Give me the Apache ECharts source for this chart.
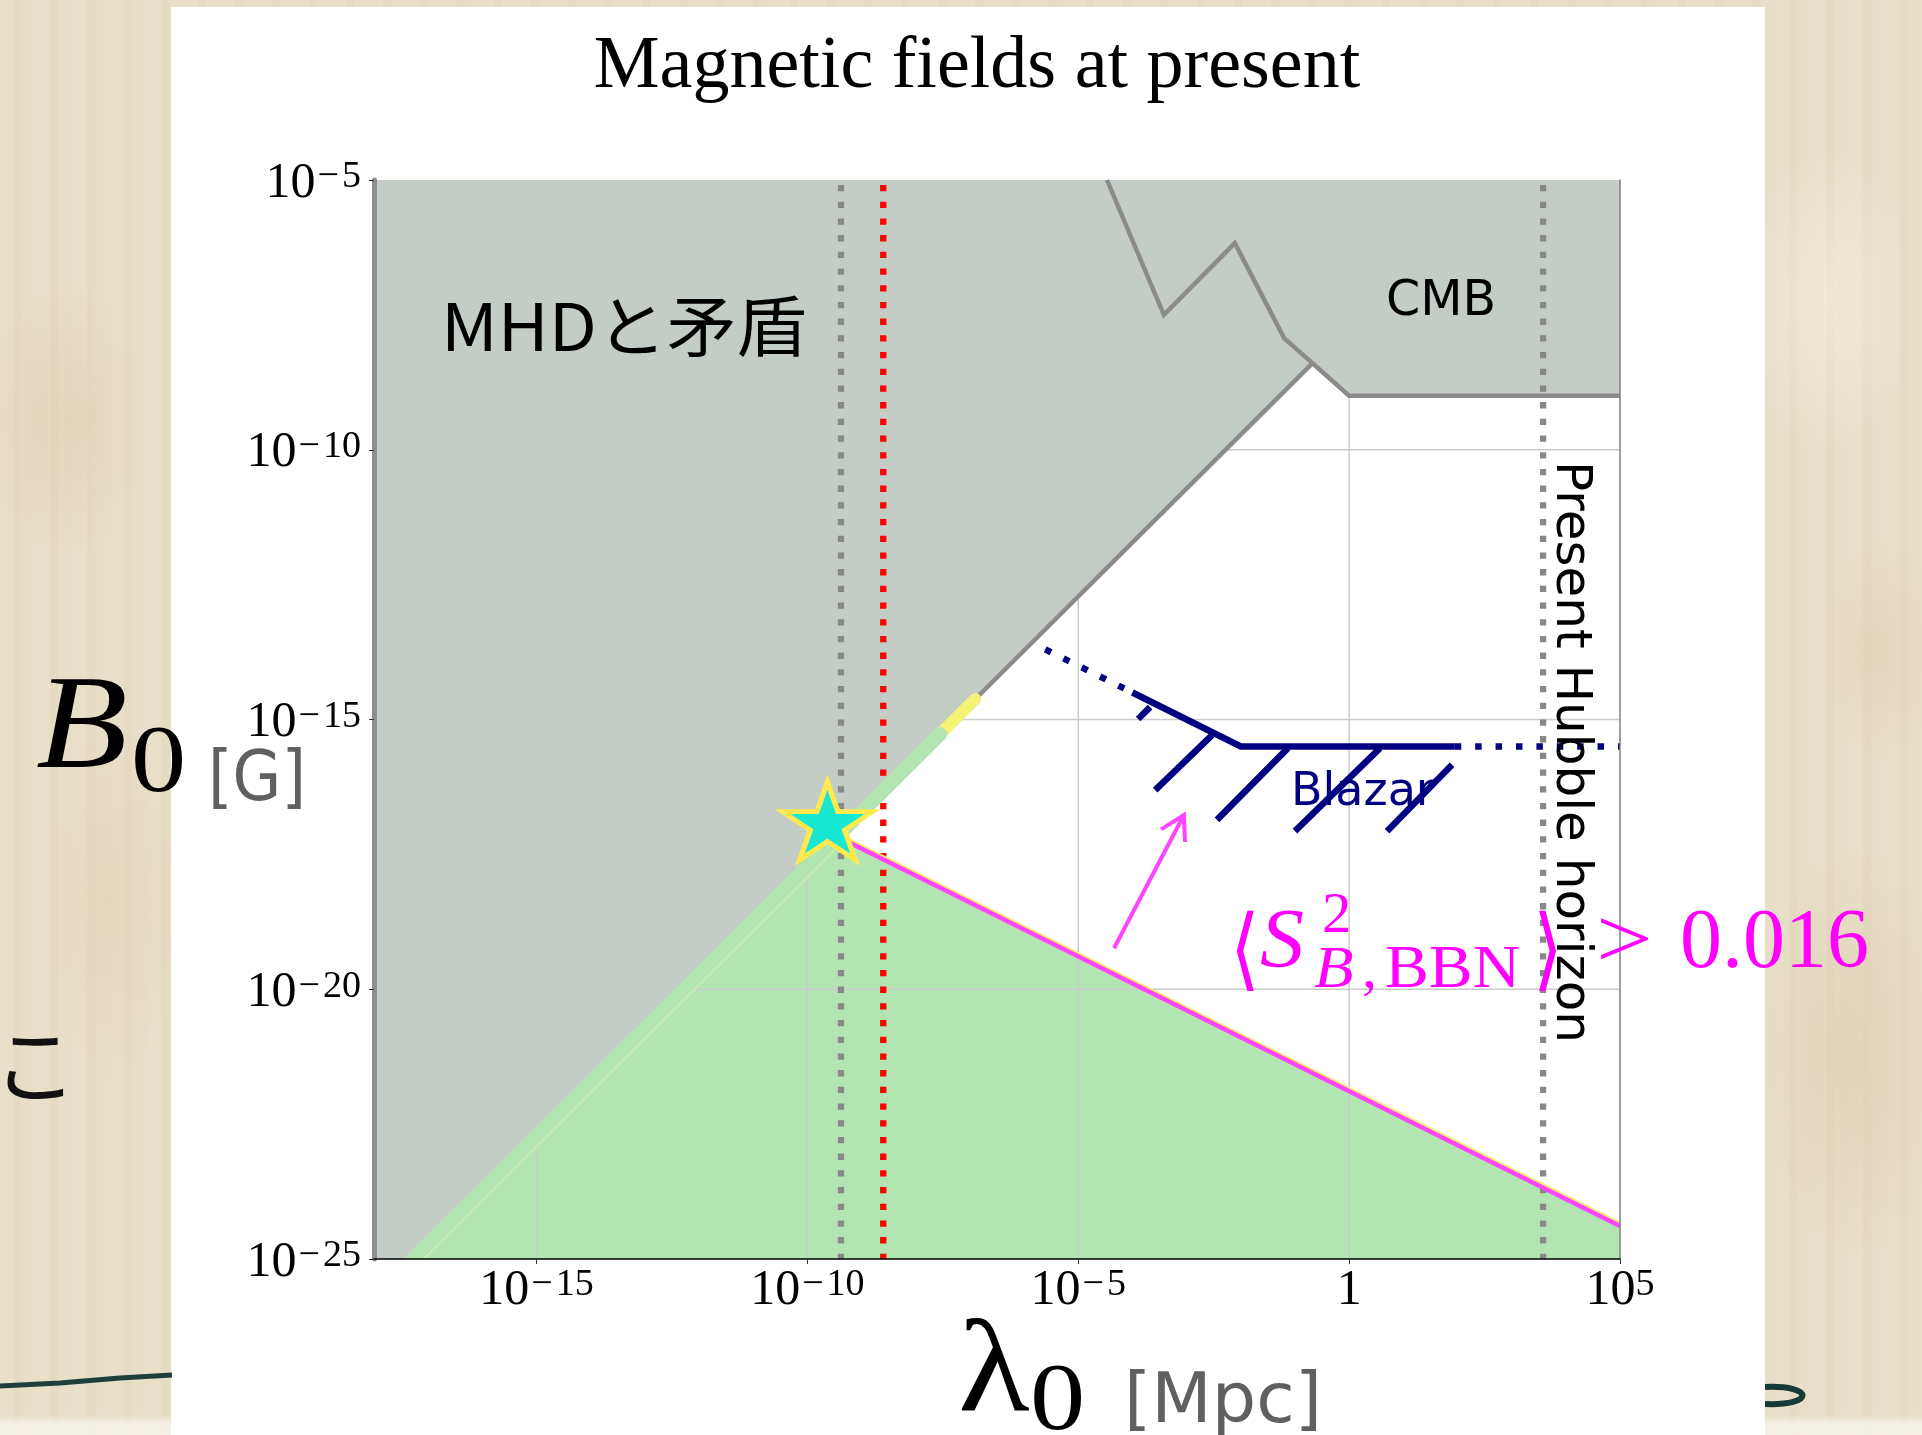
<!DOCTYPE html>
<html>
<head>
<meta charset="utf-8">
<script src="https://cdn.jsdelivr.net/npm/echarts@6/dist/echarts.min.js"></script>
<style>
  html, body { margin: 0; padding: 0; width: 1922px; height: 1435px; overflow: hidden; }
  body {
    background-color: #e8dec7;
    background-image:
      linear-gradient(180deg, rgba(255,255,255,0) 1415px, rgba(246,243,236,0.85) 1424px, rgba(246,243,236,0.85) 1435px),
      radial-gradient(ellipse 120px 200px at 60px 420px, rgba(214,196,160,0.35), rgba(214,196,160,0) 70%),
      radial-gradient(ellipse 100px 260px at 110px 900px, rgba(220,204,168,0.35), rgba(220,204,168,0) 70%),
      radial-gradient(ellipse 140px 300px at 1850px 1050px, rgba(210,192,152,0.35), rgba(210,192,152,0) 70%),
      radial-gradient(ellipse 120px 220px at 1830px 300px, rgba(250,244,228,0.45), rgba(250,244,228,0) 70%),
      radial-gradient(ellipse 90px 160px at 1880px 650px, rgba(215,198,160,0.3), rgba(215,198,160,0) 70%),
      repeating-linear-gradient(90deg, rgba(255,255,255,0.05) 0 13px, rgba(160,130,80,0.035) 13px 21px, rgba(255,255,255,0.02) 21px 37px);
  }
  #chart { position: absolute; left: 0; top: 0; width: 1922px; height: 1435px; }
</style>
</head>
<body>
<div id="chart"></div>
<script>
// All positions are log10 values: log10(λ0 / Mpc) on x, log10(B0 / G) on y.
const lamRange = [-18, 5];
const bRange = [-25, -5];
const xTickExp = [-15, -10, -5, 0, 5];
const yTickExp = [-25, -20, -15, -10, -5];
const gridLogLam = [-15, -10, -5, 0];
const gridLogB = [-20, -15, -10];

// Region excluded by MHD and by the CMB (grey)
const excludedLogLam = [-18, -17.28, -0.68, 0, 5, 5, -18];
const excludedLogB   = [-25, -25, -8.40, -9.0, -9.0, -5, -5];

// Allowed region below the BBN line (green)
const allowedLogLam = [-17.28, -9.45, 5, 5];
const allowedLogB   = [-25, -17.17, -24.39, -25];

// MHD limit B ∝ λ: grey upper part, yellow and green highlighted parts
const mhdLogLam = [-6.9, -0.68];
const mhdLogB   = [-14.62, -8.40];
const yellowLogLam = [-7.55, -6.9];
const yellowLogB   = [-15.27, -14.62];
const bandLogLam = [-17.58, -7.55];
const bandLogB   = [-25.3, -15.27];
const bandEdgeLogLam = [-17.08, -9.45];
const bandEdgeLogB   = [-25, -17.37];

// CMB bound (zig-zag)
const cmbLogLam = [-4.47, -3.42, -2.11, -1.20, 0, 5];
const cmbLogB   = [-5, -7.50, -6.17, -7.93, -9.0, -9.0];

// <S^2_{B,BBN}> > 0.016 line, B ∝ λ^{-1/2}
const bbnLogLam = [-9.45, 5];
const bbnLogB   = [-17.17, -24.39];
const bbnEdgeLogB = [-17.11, -24.33];

// Vertical markers
const greyMarkLogLam = -9.38;
const redMarkLogLam = -8.60;
const hubbleLogLam = 3.58;

// Blazar lower bound
const blazarDot1LogLam = [-5.61, -4.0];
const blazarDot1LogB   = [-13.7, -14.5];
const blazarLogLam = [-4.0, -2.0, 1.95];
const blazarLogB   = [-14.5, -15.5, -15.5];
const blazarDot2LogLam = [1.95, 5];
const blazarDot2LogB   = [-15.5, -15.5];
// hatch strokes: [logλ start, logB start, logλ end, logB end]
const blazarHatches = [
  [-3.675, -14.77, -3.896, -14.99],
  [-2.53, -15.29, -3.58, -16.31],
  [-1.13, -15.53, -2.44, -16.86],
  [0.57, -15.53, -1.00, -17.07],
  [1.90, -15.84, 0.70, -17.07]
];

// Arrow pointing to the region: [tail logλ, tail logB, tip logλ, tip logB]
const arrowSeg = [[-4.34, -19.24, -3.05, -16.77]];

// Star marker
const starPoint = [[-9.63, -16.88]];

const zip = (a, b) => a.map((v, i) => [v, b[i]]);

const C = {
  grey: '#c4cdc5', line: '#8b8b8b', green: '#b3e5b3', yellow: '#f3f275',
  pink: '#ff44ff', magenta: '#ff00ff', navy: '#000080', grid: '#cbcbcb'
};

function polygonSeries(points, fill, z) {
  return {
    type: 'custom', z: z, silent: true, clip: true, data: points,
    renderItem: function (params, api) {
      if (params.dataIndex !== 0) return;
      return { type: 'polygon', shape: { points: points.map(p => api.coord(p)) }, style: { fill: fill } };
    }
  };
}
function lineSeries(data, color, width, z, extra) {
  return {
    type: 'line', data: data, z: z, silent: true, symbol: 'none', clip: true,
    lineStyle: Object.assign({ color: color, width: width, cap: 'butt', join: 'miter' }, extra || {})
  };
}

function tickLabel(v) {
  if (v === 0) return '{b|1}';
  return '{b|10}' + (v < 0 ? '{m|−}' : '') + '{s|' + Math.abs(v) + '}';
}
const tickRich = {
  b: { fontFamily: 'Liberation Serif', fontSize: 50, lineHeight: 50, color: '#000' },
  m: { fontFamily: 'Liberation Serif', fontSize: 38, lineHeight: 24, verticalAlign: 'top', padding: [0, 3, 0, 2], color: '#000' },
  s: { fontFamily: 'Liberation Serif', fontSize: 38, lineHeight: 24, verticalAlign: 'top', color: '#000' }
};

// text helper: x = left edge, baseline in pixels
function txt(text, x, baseline, size, family, color, extra, styleExtra) {
  const k = family.indexOf('CJK') >= 0 ? 0.39 : 0.27;
  return Object.assign({
    type: 'text', x: x, y: baseline - k * size, z: 20, silent: true,
    style: Object.assign({
      text: text, fontSize: size, fontFamily: family, fill: color,
      textAlign: 'left', textVerticalAlign: 'middle'
    }, styleExtra || {})
  }, extra || {});
}

const serif = 'Liberation Serif';
const sans = 'DejaVu Sans';
const cjk = 'Noto Sans CJK JP';

const graphics = [
  // slide panel
  { type: 'rect', z: 0, silent: true, shape: { x: 171, y: 7, width: 1594, height: 1440 }, style: { fill: '#ffffff' } },
  // fragments of the slide around the panel
  { type: 'polyline', z: 1, silent: true, shape: { points: [[0, 1386], [60, 1383], [120, 1378], [172, 1375]] },
    style: { stroke: '#1e3d3b', lineWidth: 5, fill: 'none' } },
  { type: 'bezierCurve', z: 1, silent: true,
    shape: { x1: 1765, y1: 1387, cpx1: 1815, cpy1: 1385, cpx2: 1815, cpy2: 1406, x2: 1765, y2: 1404 },
    style: { stroke: '#163a38', lineWidth: 6, fill: 'none' } },
  txt('こ', -7, 1098, 84, cjk, '#111'),

  // title
  { type: 'text', x: 977, y: 88 - 0.27 * 74, z: 20, silent: true,
    style: { text: 'Magnetic fields at present', fontSize: 74, fontFamily: serif, fill: '#000', textAlign: 'center', textVerticalAlign: 'middle' } },

  // y axis title B0 [G]
  txt('B', 36, 768, 134, serif, '#000', { scaleX: 1.12 }, { fontStyle: 'italic' }),
  txt('0', 131, 792, 96, serif, '#000', { scaleX: 1.15 }),
  txt('[G]', 208, 801, 70, sans, '#606060', { scaleX: 0.9 }),

  // x axis title λ0 [Mpc]
  txt('λ', 958, 1411, 132, serif, '#000', { scaleX: 1.12 }),
  txt('0', 1030, 1430, 96, serif, '#000', { scaleX: 1.15 }),
  txt('[Mpc]', 1124, 1423, 70, sans, '#606060'),

  // region labels
  txt('MHDと矛盾', 441, 352, 66, cjk, '#000', { scaleX: 1.06 }),
  txt('CMB', 1386, 315, 49, sans, '#000'),
  Object.assign(txt('Blazar', 1291, 805, 46, sans, C.navy), { z: 7 }),
  { type: 'text', x: 1556 + 0.27 * 50, y: 752, z: 20, silent: true, rotation: -Math.PI / 2,
    style: { text: 'Present Hubble horizon', fontSize: 50, fontFamily: sans, fill: '#000', textAlign: 'center', textVerticalAlign: 'middle' } },

  // <S^2_{B,BBN}> > 0.016
  txt('⟨', 1230, 980, 90, 'DejaVu Serif', C.magenta, { z: 22, scaleX: 0.85 }),
  txt('S', 1260, 968, 84, serif, C.magenta, { z: 22, scaleX: 1.05 }, { fontStyle: 'italic' }),
  txt('2', 1322, 932, 56, serif, C.magenta, { z: 22, scaleX: 1.05 }),
  txt('B', 1314, 987, 60, serif, C.magenta, { z: 22, scaleX: 1.08 }, { fontStyle: 'italic' }),
  txt(',', 1362, 987, 60, serif, C.magenta, { z: 22 }),
  txt('BBN', 1385, 987, 62, serif, C.magenta, { z: 22, scaleX: 1.06 }),
  txt('⟩', 1533, 980, 90, 'DejaVu Serif', C.magenta, { z: 22, scaleX: 0.85 }),
  txt('>', 1596, 968, 84, serif, C.magenta, { z: 22, scaleX: 1.2 }),
  txt('0.016', 1680, 968, 84, serif, C.magenta, { z: 22 })
];

const chart = echarts.init(document.getElementById('chart'), null, { renderer: 'canvas' });
chart.setOption({
  backgroundColor: 'transparent',
  animation: false,
  grid: { left: 374, top: 180, width: 1246, height: 1079, containLabel: false },
  xAxis: {
    type: 'value', min: lamRange[0], max: lamRange[1], z: 9,
    axisLine: { show: true, onZero: false, lineStyle: { color: '#000', width: 1.5 } },
    axisTick: { show: true, customValues: xTickExp, length: 5, lineStyle: { color: '#333', width: 1 } },
    axisLabel: { customValues: xTickExp, formatter: tickLabel, rich: tickRich, margin: 7 },
    splitLine: { show: false }
  },
  yAxis: [{
    type: 'value', min: bRange[0], max: bRange[1], z: 9, position: 'left',
    axisLine: { show: true, onZero: false, lineStyle: { color: '#8e8e8e', width: 5 } },
    axisTick: { show: true, customValues: yTickExp, length: 5, lineStyle: { color: '#333', width: 1 } },
    axisLabel: { customValues: yTickExp, formatter: tickLabel, rich: tickRich, margin: 13, padding: [7, 0, 0, 0] },
    splitLine: { show: false }
  }, {
    type: 'value', min: bRange[0], max: bRange[1], z: 9, position: 'right',
    axisLine: { show: true, onZero: false, lineStyle: { color: '#7f7f7f', width: 1.5 } },
    axisTick: { show: false }, axisLabel: { show: false }, splitLine: { show: false }
  }],
  graphic: graphics,
  series: [
    polygonSeries(zip(allowedLogLam, allowedLogB), C.green, 1),
    {
      type: 'custom', z: 2, silent: true, clip: true, data: gridLogLam.map(v => [v, bRange[0]]),
      renderItem: function (params, api) {
        const a = api.coord([api.value(0), bRange[0]]), b = api.coord([api.value(0), bRange[1]]);
        return { type: 'line', shape: { x1: a[0], y1: a[1], x2: b[0], y2: b[1] }, style: { stroke: C.grid, lineWidth: 1.5 } };
      }
    },
    {
      type: 'custom', z: 2, silent: true, clip: true, data: gridLogB.map(v => [lamRange[0], v]),
      renderItem: function (params, api) {
        const a = api.coord([lamRange[0], api.value(1)]), b = api.coord([lamRange[1], api.value(1)]);
        return { type: 'line', shape: { x1: a[0], y1: a[1], x2: b[0], y2: b[1] }, style: { stroke: C.grid, lineWidth: 1.5 } };
      }
    },
    polygonSeries(zip(excludedLogLam, excludedLogB), C.grey, 3),
    lineSeries([[greyMarkLogLam, bRange[1]], [greyMarkLogLam, bRange[0]]], '#888888', 6.3, 4, { type: [6.3, 10.4], dashOffset: -5 }),
    lineSeries([[redMarkLogLam, bRange[1]], [redMarkLogLam, bRange[0]]], '#ff0000', 6.3, 4, { type: [6.3, 10.4], dashOffset: -5 }),
    lineSeries([[hubbleLogLam, bRange[1]], [hubbleLogLam, bRange[0]]], '#888888', 6.3, 4, { type: [6.3, 10.4], dashOffset: -5 }),
    lineSeries(zip(mhdLogLam, mhdLogB), C.line, 4.5, 5),
    lineSeries(zip(cmbLogLam, cmbLogB), C.line, 4.5, 5),
    lineSeries(zip(yellowLogLam, yellowLogB), C.yellow, 12, 6, { cap: 'round' }),
    {
      type: 'custom', z: 7, silent: true, clip: true, data: zip(bandLogLam, bandLogB),
      renderItem: function (params, api) {
        if (params.dataIndex !== 0) return;
        const a = api.coord([bandLogLam[0], bandLogB[0]]), b = api.coord([bandLogLam[1], bandLogB[1]]);
        return { type: 'line', shape: { x1: a[0], y1: a[1], x2: b[0], y2: b[1] }, style: { stroke: C.green, lineWidth: 14, lineCap: 'round' } };
      }
    },
    lineSeries(zip(bandEdgeLogLam, bandEdgeLogB), '#d9eeae', 1.2, 7),
    lineSeries(zip(bbnLogLam, bbnEdgeLogB), '#f4ee6a', 2.5, 6),
    lineSeries(zip(bbnLogLam, bbnLogB), C.pink, 4.5, 6),
    lineSeries(zip(blazarDot1LogLam, blazarDot1LogB), C.navy, 6.5, 6, { type: [6.5, 13.9] }),
    lineSeries(zip(blazarLogLam, blazarLogB), C.navy, 6.5, 6),
    lineSeries(zip(blazarDot2LogLam, blazarDot2LogB), C.navy, 6.5, 6, { type: [6.5, 13.9] }),
    {
      type: 'custom', z: 8, silent: true, clip: true, data: blazarHatches,
      renderItem: function (params, api) {
        const a = api.coord([api.value(0), api.value(1)]), b = api.coord([api.value(2), api.value(3)]);
        return { type: 'line', shape: { x1: a[0], y1: a[1], x2: b[0], y2: b[1] }, style: { stroke: C.navy, lineWidth: 6.5, lineCap: 'butt' } };
      }
    },
    {
      type: 'custom', z: 8, silent: true, clip: true, data: arrowSeg,
      renderItem: function (params, api) {
        const a = api.coord([api.value(0), api.value(1)]), b = api.coord([api.value(2), api.value(3)]);
        const ang = Math.atan2(a[1] - b[1], a[0] - b[0]);
        const L = 27, w = Math.PI / 6;
        const p1 = [b[0] + L * Math.cos(ang + w), b[1] + L * Math.sin(ang + w)];
        const p2 = [b[0] + L * Math.cos(ang - w), b[1] + L * Math.sin(ang - w)];
        return { type: 'group', children: [
          { type: 'line', shape: { x1: a[0], y1: a[1], x2: b[0], y2: b[1] }, style: { stroke: C.pink, lineWidth: 4 } },
          { type: 'polyline', shape: { points: [p1, b, p2] }, style: { stroke: C.pink, lineWidth: 4, fill: 'none' } }
        ] };
      }
    },
    {
      type: 'scatter', z: 10, silent: true, data: starPoint,
      symbol: 'path://M50,0 L61.2,34.5 L97.6,34.5 L68.2,55.9 L79.4,90.5 L50,69.1 L20.6,90.5 L31.8,55.9 L2.4,34.5 L38.8,34.5 Z',
      symbolSize: [90, 78],
      itemStyle: { color: '#17e8d1', borderColor: '#ffe94f', borderWidth: 5, borderJoin: 'miter', borderMiterLimit: 10, opacity: 1 }
    }
  ]
});
</script>
</body>
</html>
